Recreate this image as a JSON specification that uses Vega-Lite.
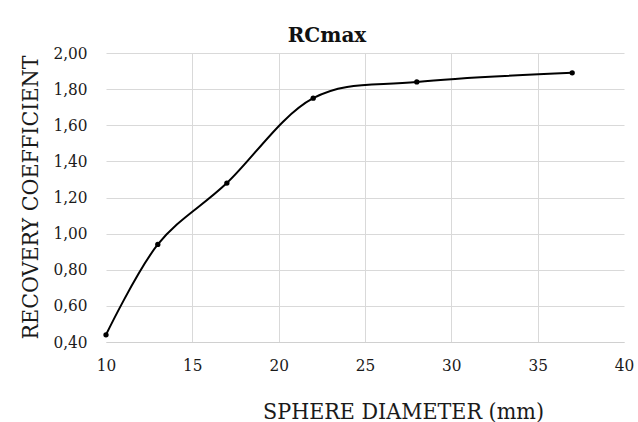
{
  "$schema": "https://vega.github.io/schema/vega-lite/v6.json",
  "autosize": "none",
  "width": 518,
  "height": 289,
  "padding": {"left": 106, "top": 53, "right": 14, "bottom": 80},
  "background": "white",
  "title": {
    "text": "RCmax",
    "font": "DejaVu Serif",
    "fontSize": 20,
    "fontWeight": "bold",
    "color": "#111111",
    "anchor": "middle",
    "frame": "group",
    "offset": 8,
    "dx": -38,
    "dy": 10
  },
  "config": {
    "view": {"stroke": null},
    "axis": {
      "labelFont": "DejaVu Serif Condensed, DejaVu Serif",
      "titleFont": "DejaVu Serif Condensed, DejaVu Serif",
      "labelColor": "#1a1a1a",
      "titleColor": "#1a1a1a",
      "titleFontWeight": "normal",
      "gridColor": "#d9d9d9",
      "gridWidth": 1,
      "ticks": false,
      "tickSize": 0,
      "labelFlush": false
    }
  },
  "data": {
    "values": [
      {"diameter": 10, "rc": 0.44},
      {"diameter": 13, "rc": 0.94},
      {"diameter": 17, "rc": 1.28},
      {"diameter": 22, "rc": 1.75},
      {"diameter": 28, "rc": 1.84},
      {"diameter": 37, "rc": 1.89}
    ]
  },
  "encoding": {
    "x": {
      "field": "diameter",
      "type": "quantitative",
      "scale": {"domain": [10, 40], "nice": false, "zero": false},
      "axis": {
        "title": "SPHERE DIAMETER (mm)",
        "values": [10, 15, 20, 25, 30, 35, 40],
        "labelFontSize": 17,
        "labelPadding": 15,
        "labelBaseline": "top",
        "titleFontSize": 23,
        "titleX": 297,
        "titleY": 76,
        "titleBaseline": "alphabetic",
        "titleAnchor": "middle",
        "domain": true,
        "domainColor": "#d0d0d0",
        "domainWidth": 1.2,
        "grid": true,
        "gridOpacity": {"condition": {"test": "datum.value == 10 || datum.value == 40", "value": 0}, "value": 1}
      }
    },
    "y": {
      "field": "rc",
      "type": "quantitative",
      "scale": {"domain": [0.4, 2.0], "nice": false, "zero": false},
      "axis": {
        "title": "RECOVERY COEFFICIENT",
        "values": [0.4, 0.6, 0.8, 1.0, 1.2, 1.4, 1.6, 1.8, 2.0],
        "labelExpr": "replace(format(datum.value, '.2f'), '.', ',')",
        "labelFontSize": 17,
        "labelPadding": 19,
        "titleFontSize": 23,
        "titleX": -69,
        "titleY": 144,
        "titleBaseline": "alphabetic",
        "titleAnchor": "middle",
        "domain": false,
        "grid": true
      }
    }
  },
  "layer": [
    {
      "mark": {"type": "line", "interpolate": "cardinal", "tension": 0, "color": "#000000", "strokeWidth": 2}
    },
    {
      "mark": {"type": "point", "filled": true, "size": 28, "color": "#000000", "opacity": 1}
    }
  ]
}
